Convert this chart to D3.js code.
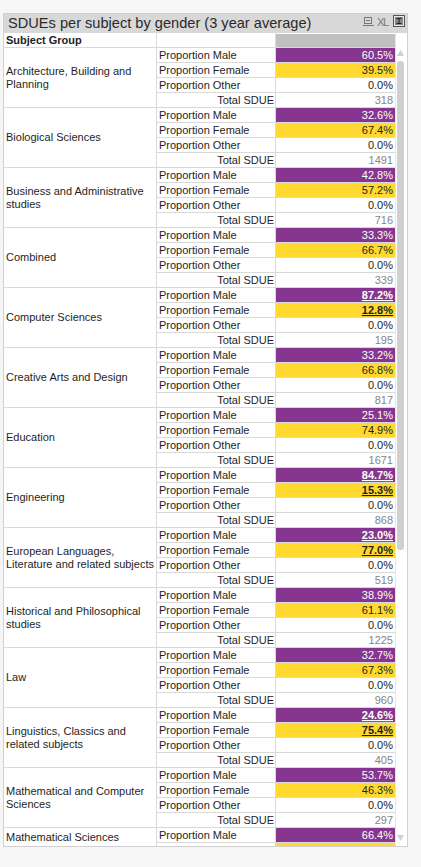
<!DOCTYPE html>
<html><head><meta charset="utf-8">
<script src="https://cdn.jsdelivr.net/npm/d3@7"></script>
<style>
html,body{margin:0;padding:0;background:#f6f6f6;}
svg{display:block;}
text{font-family:"Liberation Sans",Arial,sans-serif;}
</style></head>
<body>
<script>
const panelTitle = "SDUEs per subject by gender (3 year average)";
const headerLabel = "Subject Group";
const metricLabels = ["Proportion Male","Proportion Female","Proportion Other","Total SDUE"];
const categories = [
  "Architecture, Building and Planning",
  "Biological Sciences",
  "Business and Administrative studies",
  "Combined",
  "Computer Sciences",
  "Creative Arts and Design",
  "Education",
  "Engineering",
  "European Languages, Literature and related subjects",
  "Historical and Philosophical studies",
  "Law",
  "Linguistics, Classics and related subjects",
  "Mathematical and Computer Sciences",
  "Mathematical Sciences"
];
const maleValues   = [60.5,32.6,42.8,33.3,87.2,33.2,25.1,84.7,23.0,38.9,32.7,24.6,53.7,66.4];
const femaleValues = [39.5,67.4,57.2,66.7,12.8,66.8,74.9,15.3,77.0,61.1,67.3,75.4,46.3,33.6];
const otherValues  = [0.0,0.0,0.0,0.0,0.0,0.0,0.0,0.0,0.0,0.0,0.0,0.0,0.0,0.0];
const totalValues  = [318,1491,716,339,195,817,1671,868,519,1225,960,405,297,null];
const highlighted  = [false,false,false,false,true,false,false,true,true,false,false,true,false,false];

const W = 421, H = 867;
const X0 = 3, X1 = 408, TOP = 13, BOTTOM = 847;
const TITLE_H = 20, HEAD_H = 14, ROW_H = 15;
const C1 = 156, C2 = 275, C3 = 395;
const bodyTop = TOP + TITLE_H + HEAD_H; // 47
const PURPLE = "#86368f", YELLOW = "#ffd92f", GRID = "#d9d9d9";
const FS = 11;

const rows = [];
categories.forEach((c, ci) => {
  const vals = [maleValues[ci], femaleValues[ci], otherValues[ci], totalValues[ci]];
  metricLabels.forEach((m, mi) => rows.push({ci, mi, key: ci + "-" + mi, metric: m, value: vals[mi], hi: highlighted[ci]}));
});

const y = d3.scaleBand().domain(rows.map(r => r.key)).range([bodyTop, bodyTop + rows.length * ROW_H]);
const cat = d3.scaleBand().domain(categories).range([bodyTop, bodyTop + categories.length * ROW_H * 4]);
const fillColor = d3.scaleOrdinal().domain(metricLabels).range([PURPLE, YELLOW, "#ffffff", "#ffffff"]);
const textColor = d3.scaleOrdinal().domain(metricLabels).range(["#ffffff", "#1e1e1e", "#1e1e1e", "#858585"]);

const visBottom = BOTTOM - 1;
const visRows = rows.filter(r => y(r.key) < visBottom);

const svg = d3.select("body").append("svg").attr("width", W).attr("height", H);
svg.append("rect").attr("width", W).attr("height", H).attr("fill", "#f6f6f6");

// panel
svg.append("rect").attr("x", X0 + 0.5).attr("y", TOP + 0.5).attr("width", X1 - X0 - 1).attr("height", BOTTOM - TOP - 1)
  .attr("fill", "#ffffff").attr("stroke", "#d0d0d0");
// title bar
svg.append("rect").attr("x", X0 + 1).attr("y", TOP + 1).attr("width", X1 - X0 - 2).attr("height", TITLE_H - 1).attr("fill", "#d8d8d8");
svg.append("text").attr("x", X0 + 5).attr("y", TOP + 15).attr("font-size", 14.6).attr("fill", "#2a2a2a").text(panelTitle);

// title icons
const ic = svg.append("g");
ic.append("rect").attr("x", 364.5).attr("y", 17.5).attr("width", 7).attr("height", 6).attr("fill", "none").attr("stroke", "#777");
ic.append("line").attr("x1", 363).attr("x2", 374).attr("y1", 25.5).attr("y2", 25.5).attr("stroke", "#777");
ic.append("line").attr("x1", 366).attr("x2", 370).attr("y1", 20.5).attr("y2", 20.5).attr("stroke", "#777");
ic.append("text").attr("x", 377).attr("y", 26).attr("font-size", 11).attr("fill", "#777").attr("textLength", 12).text("XL");
ic.append("rect").attr("x", 393.5).attr("y", 15.5).attr("width", 11).attr("height", 11).attr("fill", "#e8e8e8").attr("stroke", "#555");
ic.append("rect").attr("x", 395).attr("y", 17).attr("width", 8).attr("height", 8).attr("fill", "#888");
ic.append("path").attr("d", "M396.5,18.5h5M399,18.5v5M396.5,23.5h5").attr("stroke", "#222").attr("fill", "none");

// header row
const hy = TOP + TITLE_H;
svg.append("text").attr("x", X0 + 3).attr("y", hy + 11).attr("font-size", FS).attr("font-weight", "bold").attr("fill", "#222").text(headerLabel);
svg.append("rect").attr("x", C2 + 1).attr("y", hy + 1).attr("width", C3 - C2 - 1).attr("height", HEAD_H - 1).attr("fill", "#c0c0c0");
svg.append("line").attr("x1", C1 + 0.5).attr("x2", C1 + 0.5).attr("y1", hy).attr("y2", bodyTop).attr("stroke", GRID);
svg.append("line").attr("x1", C2 + 0.5).attr("x2", C2 + 0.5).attr("y1", hy).attr("y2", bodyTop).attr("stroke", GRID);
svg.append("line").attr("x1", X0).attr("x2", C3).attr("y1", bodyTop + 0.5).attr("y2", bodyTop + 0.5).attr("stroke", GRID);

// body (clipped via nested svg)
const body = svg.append("svg").attr("x", 0).attr("y", bodyTop).attr("width", C3 + 1).attr("height", visBottom - bodyTop)
  .attr("viewBox", `0 ${bodyTop} ${C3 + 1} ${visBottom - bodyTop}`).style("overflow", "hidden");

body.selectAll("rect.cell").data(visRows.filter(r => r.mi < 2)).join("rect").attr("class", "cell")
  .attr("x", C2 + 1).attr("y", r => y(r.key) + 1).attr("width", C3 - C2 - 1).attr("height", ROW_H - 1)
  .attr("fill", r => fillColor(r.metric));

body.selectAll("line.rg").data(visRows).join("line").attr("class", "rg")
  .attr("x1", r => r.mi === 3 ? X0 : C1).attr("x2", C3)
  .attr("y1", r => y(r.key) + ROW_H + 0.5).attr("y2", r => y(r.key) + ROW_H + 0.5).attr("stroke", GRID);
body.append("line").attr("x1", C1 + 0.5).attr("x2", C1 + 0.5).attr("y1", bodyTop).attr("y2", BOTTOM).attr("stroke", GRID);
body.append("line").attr("x1", C2 + 0.5).attr("x2", C2 + 0.5).attr("y1", bodyTop).attr("y2", BOTTOM).attr("stroke", GRID);

const fullRows = visRows.filter(r => y(r.key) + ROW_H <= visBottom + 2);
body.selectAll("text.metric").data(fullRows).join("text").attr("class", "metric")
  .attr("x", r => r.mi === 3 ? C2 - 1 : C1 + 3)
  .attr("text-anchor", r => r.mi === 3 ? "end" : "start")
  .attr("y", r => y(r.key) + 12).attr("font-size", FS).attr("fill", "#1e1e1e").text(r => r.metric);

const fmt = d3.format(".1f");
body.selectAll("text.val").data(fullRows.filter(r => r.value !== null)).join("text").attr("class", "val")
  .attr("x", C3 - 2).attr("text-anchor", "end").attr("y", r => y(r.key) + 12).attr("font-size", FS)
  .attr("fill", r => textColor(r.metric))
  .attr("font-weight", r => (r.hi && r.mi < 2) ? "bold" : null)
  .attr("text-decoration", r => (r.hi && r.mi < 2) ? "underline" : null)
  .text(r => r.mi === 3 ? String(r.value) : fmt(r.value) + "%");

const catG = body.selectAll("text.cat").data(categories).join("text").attr("class", "cat")
  .attr("x", X0 + 3).attr("font-size", FS).attr("fill", "#1e1e1e");
catG.each(function(c) {
  const t = d3.select(this);
  const words = c.split(" ");
  const lines = [];
  let line = [];
  const tmp = t.append("tspan");
  words.forEach(w => {
    line.push(w);
    tmp.text(line.join(" "));
    if (tmp.node().getComputedTextLength() > 149 && line.length > 1) {
      line.pop(); lines.push(line.join(" ")); line = [w];
    }
  });
  lines.push(line.join(" "));
  tmp.remove();
  const top = cat(c), bot = Math.min(cat(c) + cat.bandwidth(), visBottom);
  const mid = (top + bot) / 2;
  const lh = 13;
  const first = mid - (lines.length - 1) * lh / 2 + 4;
  lines.forEach((l, i) => t.append("tspan").attr("x", X0 + 3).attr("y", first + i * lh).text(l));
});

// scroll column divider and scrollbar
svg.append("line").attr("x1", C3 + 0.5).attr("x2", C3 + 0.5).attr("y1", hy).attr("y2", BOTTOM - 1).attr("stroke", "#e6e6e6");
svg.append("path").attr("d", "M397,56 L400.5,50 L404,56 Z").attr("fill", "#cfcfcf");
svg.append("rect").attr("x", 397).attr("y", 61).attr("width", 7).attr("height", 489).attr("rx", 3).attr("fill", "#d0d0d0");
svg.append("path").attr("d", "M397,835 L400.5,841 L404,835 Z").attr("fill", "#cfcfcf");
</script>
</body></html>
